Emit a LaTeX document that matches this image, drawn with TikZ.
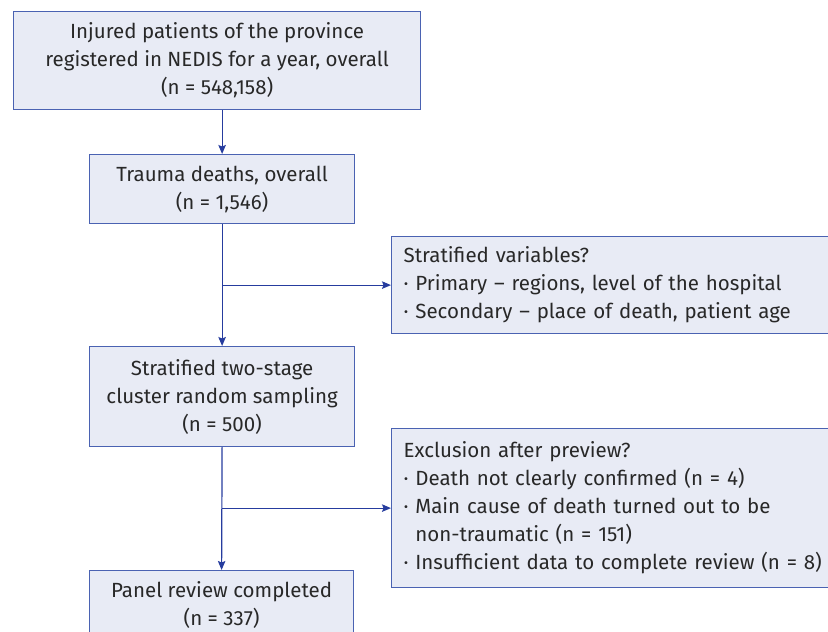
\documentclass[tikz,border=0pt]{standalone}
\usepackage{fontspec}
\setmainfont{Fira Sans}
\usepackage{xcolor}
\usetikzlibrary{arrows.meta,calc}

\definecolor{boxfill}{RGB}{232,235,245}
\definecolor{boxline}{RGB}{74,98,178}
\definecolor{flowline}{RGB}{38,60,158}
\definecolor{boxtext}{RGB}{40,40,40}

\begin{document}
\begin{tikzpicture}[x=1pt,y=1pt,yscale=-1,xscale=1,
	box/.style={draw=boxline,line width=1.2pt,fill=boxfill,text=boxtext,anchor=north west,inner sep=0pt,align=center,font=\fontsize{20.5}{28}\selectfont},
	sidebox/.style={box,align=left,inner xsep=12pt,text width=460pt,minimum height=#1},
	flow/.style={draw=flowline,line width=1.2pt,-{Stealth[length=9pt,width=7.5pt,inset=1.5pt]}}]
	\useasboundingbox (0,0) rectangle (828,632);
	
	%Shape: Rectangle [id:box-injured]
	\node [box,minimum width=407pt,minimum height=98pt] (injured) at (13,11) {Injured patients of the province\\registered in NEDIS for a year, overall\\(n = 548,158)};
	%Shape: Rectangle [id:box-deaths]
	\node [box,minimum width=265pt,minimum height=69pt] (deaths) at (89,154) {Trauma deaths, overall\\(n = 1,546)};
	%Shape: Rectangle [id:box-sampling]
	\node [box,minimum width=265pt,minimum height=100pt] (sampling) at (89,346) {Stratified two-stage\\cluster random sampling\\(n = 500)};
	%Shape: Rectangle [id:box-review]
	\node [box,minimum width=264pt,minimum height=68pt] (review) at (89,570) {Panel review completed\\(n = 337)};
	
	%Shape: Rectangle [id:box-strata]
	\node [sidebox=97pt] (strata) at (391,236) {Stratified variables?\\
		· Primary – regions, level of the hospital\\
		· Secondary – place of death, patient age};
	%Shape: Rectangle [id:box-exclusion]
	\node [sidebox=159pt] (exclusion) at (391,428) {Exclusion after preview?\\
		· Death not clearly confirmed (n = 4)\\
		· Main cause of death turned out to be\\
		\phantom{· }non-traumatic (n = 151)\\
		· Insufficient data to complete review (n = 8)};
	
	%Straight Lines [id:flow-main]
	\draw [flow] (deaths.north |- injured.south) -- (deaths.north) ;
	\draw [flow] (deaths.south) -- (sampling.north) ;
	\draw [flow] (sampling.south) -- (review.north) ;
	%Straight Lines [id:flow-side]
	\draw [flow] (deaths.south |- strata.west) -- (strata.west) ;
	\draw [flow] (sampling.south |- exclusion.west) -- (exclusion.west) ;
	
\end{tikzpicture}
\end{document}
